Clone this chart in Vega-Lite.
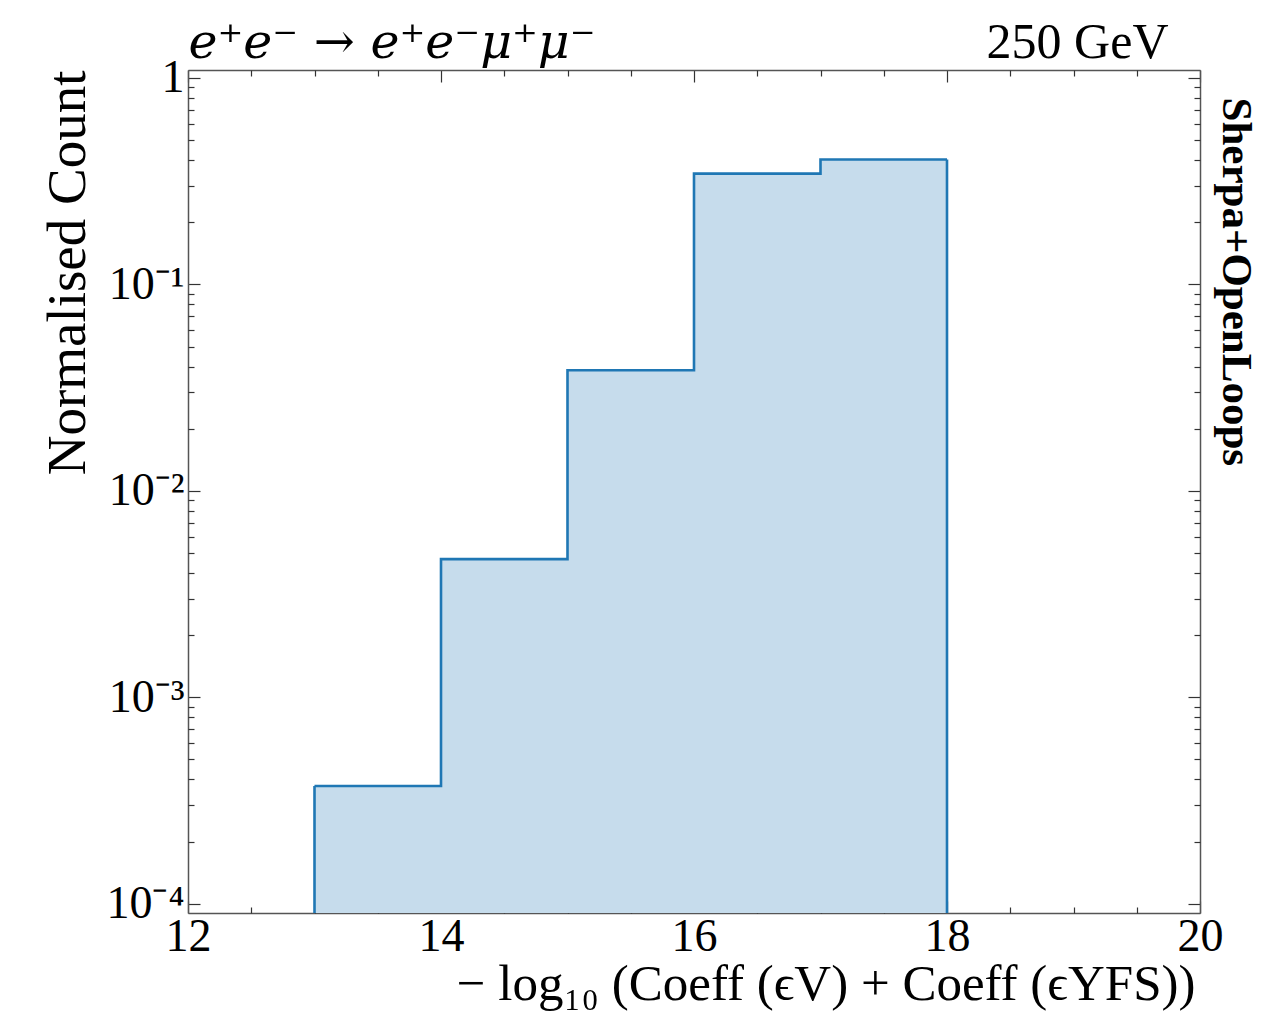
{
  "$schema": "https://vega.github.io/schema/vega-lite/v6.json",
  "autosize": "none",
  "width": 1012,
  "height": 843,
  "padding": {"left": 188, "top": 70, "right": 66, "bottom": 110},
  "background": "white",
  "config": {
    "view": {"stroke": null},
    "font": "Liberation Serif",
    "axis": {
      "domainColor": "#555",
      "domainWidth": 1.5,
      "tickColor": "#333",
      "tickWidth": 1.2,
      "grid": false,
      "labelFont": "Liberation Serif",
      "titleFont": "Liberation Serif",
      "labelColor": "black",
      "titleColor": "black",
      "titleFontWeight": "normal"
    }
  },
  "data": {
    "values": [
      {"lo": 13, "hi": 14, "count": 0.000372},
      {"lo": 14, "hi": 15, "count": 0.00467},
      {"lo": 15, "hi": 16, "count": 0.0384},
      {"lo": 16, "hi": 17, "count": 0.344},
      {"lo": 17, "hi": 18, "count": 0.403}
    ]
  },
  "resolve": {"axis": {"x": "independent", "y": "independent"}},
  "layer": [
    {
      "transform": [{"fold": ["lo", "hi"], "as": ["edge", "x"]}],
      "mark": {"type": "area", "fill": "#c6dcec", "clip": true},
      "encoding": {
        "x": {
          "field": "x", "type": "quantitative",
          "scale": {"domain": [12, 20], "nice": false, "zero": false},
          "axis": {
            "orient": "bottom", "values": [12, 14, 16, 18, 20], "tickSize": -12,
            "labelFontSize": 46, "labelPadding": 13, "labelFlush": false,
            "title": "− log₁₀ (Coeff (ϵV) + Coeff (ϵYFS))",
            "titleFontSize": 51, "titleAlign": "right", "titleAnchor": "end",
            "titleX": 1007, "titleY": 86, "titleBaseline": "alphabetic"
          }
        },
        "y": {
          "field": "count", "type": "quantitative", "stack": null,
          "scale": {"type": "log", "domain": [0.0000902, 1.093], "nice": false},
          "axis": {
            "orient": "left", "values": [0.0001, 0.001, 0.01, 0.1, 1], "tickSize": -12,
            "labelFontSize": 46, "labelPadding": 16, "labelBaseline": "middle",
            "labelExpr": "datum.value >= 1 ? '1' : '10⁻' + ['⁰','¹','²','³','⁴','⁵'][round(-log(datum.value)/LN10)]",
            "title": "Normalised Count", "titleFontSize": 55, "titleAngle": -90,
            "titleAlign": "right", "titleBaseline": "alphabetic", "titleX": -104, "titleY": 0
          }
        },
        "order": [{"field": "x", "type": "quantitative"}, {"field": "edge", "type": "nominal", "sort": "ascending"}]
      }
    },
    {
      "transform": [{"fold": ["lo", "hi"], "as": ["edge", "x"]}],
      "mark": {"type": "line", "stroke": "#1f77b4", "strokeWidth": 2.6, "clip": true},
      "encoding": {
        "x": {
          "field": "x", "type": "quantitative",
          "scale": {"domain": [12, 20], "nice": false, "zero": false},
          "axis": {
            "orient": "bottom", "values": [12.5, 13, 13.5, 14.5, 15, 15.5, 16.5, 17, 17.5, 18.5, 19, 19.5],
            "tickSize": -6, "labels": false, "domain": false, "title": null
          }
        },
        "y": {
          "field": "count", "type": "quantitative",
          "scale": {"type": "log", "domain": [0.0000902, 1.093], "nice": false},
          "axis": {
            "orient": "left",
            "values": [0.0002, 0.0003, 0.0004, 0.0005, 0.0006, 0.0007, 0.0008, 0.0009, 0.002, 0.003, 0.004, 0.005, 0.006, 0.007, 0.008, 0.009, 0.02, 0.03, 0.04, 0.05, 0.06, 0.07, 0.08, 0.09, 0.2, 0.3, 0.4, 0.5, 0.6, 0.7, 0.8, 0.9],
            "tickSize": -6, "labels": false, "domain": false, "title": null
          }
        },
        "order": [{"field": "x", "type": "quantitative"}, {"field": "edge", "type": "nominal", "sort": "ascending"}]
      }
    },
    {
      "transform": [
        {"joinaggregate": [{"op": "min", "field": "lo", "as": "first"}]},
        {"filter": "datum.lo == datum.first"}
      ],
      "mark": {"type": "rule", "stroke": "#1f77b4", "strokeWidth": 2.6, "clip": true},
      "encoding": {
        "x": {
          "field": "lo", "type": "quantitative",
          "scale": {"domain": [12, 20], "nice": false, "zero": false},
          "axis": {
            "orient": "top", "values": [12, 14, 16, 18, 20], "tickSize": -12, "labels": false,
            "title": "e⁺e⁻ → e⁺e⁻μ⁺μ⁻", "titleFont": "DejaVu Serif", "titleFontSize": 49, "titleFontStyle": "italic",
            "titleAlign": "left", "titleBaseline": "alphabetic", "titleX": 0, "titleY": -13
          }
        },
        "y": {
          "field": "count", "type": "quantitative",
          "scale": {"type": "log", "domain": [0.0000902, 1.093], "nice": false},
          "axis": {
            "orient": "right", "values": [0.0001, 0.001, 0.01, 0.1, 1], "tickSize": -12, "labels": false,
            "title": "Sherpa+OpenLoops", "titleFontSize": 43, "titleFontWeight": "bold", "titleAngle": 90,
            "titleAlign": "left", "titleBaseline": "alphabetic", "titleX": 22, "titleY": 27
          }
        },
        "y2": {"value": "height"}
      }
    },
    {
      "transform": [
        {"joinaggregate": [{"op": "max", "field": "hi", "as": "last"}]},
        {"filter": "datum.hi == datum.last"}
      ],
      "mark": {"type": "rule", "stroke": "#1f77b4", "strokeWidth": 2.6, "clip": true},
      "encoding": {
        "x": {
          "field": "hi", "type": "quantitative",
          "scale": {"domain": [12, 20], "nice": false, "zero": false},
          "axis": {
            "orient": "top", "values": [12.5, 13, 13.5, 14.5, 15, 15.5, 16.5, 17, 17.5, 18.5, 19, 19.5],
            "tickSize": -6, "labels": false, "domain": false,
            "title": "250 GeV", "titleFontSize": 50,
            "titleAlign": "right", "titleBaseline": "alphabetic", "titleX": 980, "titleY": -13
          }
        },
        "y": {
          "field": "count", "type": "quantitative",
          "scale": {"type": "log", "domain": [0.0000902, 1.093], "nice": false},
          "axis": {
            "orient": "right",
            "values": [0.0002, 0.0003, 0.0004, 0.0005, 0.0006, 0.0007, 0.0008, 0.0009, 0.002, 0.003, 0.004, 0.005, 0.006, 0.007, 0.008, 0.009, 0.02, 0.03, 0.04, 0.05, 0.06, 0.07, 0.08, 0.09, 0.2, 0.3, 0.4, 0.5, 0.6, 0.7, 0.8, 0.9],
            "tickSize": -6, "labels": false, "domain": false, "title": null
          }
        },
        "y2": {"value": "height"}
      }
    }
  ]
}
